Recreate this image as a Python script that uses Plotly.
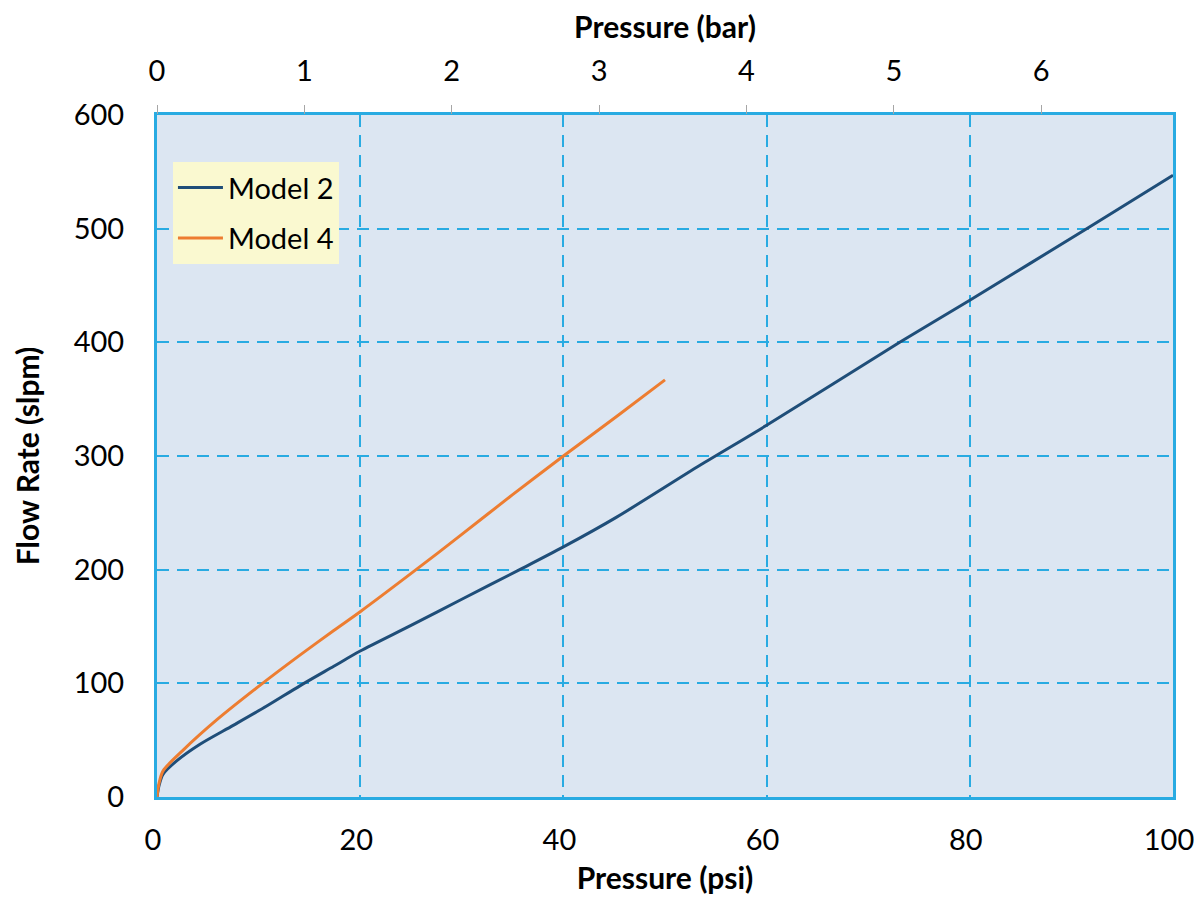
import plotly.graph_objects as go

PSI_PER_BAR = 14.5038

model2_psi = [0, 0.2, 0.6, 1.93, 4.23, 7.5, 10.8, 14.1, 17.4, 20, 25, 30, 35.7, 40, 45.2, 53.4, 60, 73.1, 80, 91.5, 100]
model2_slpm = [0, 10, 20, 31.7, 46.4, 63, 80, 98, 115, 128.4, 151, 174, 200, 220, 246, 291.6, 327, 400, 437, 500, 547]

model4_psi = [0, 0.2, 0.6, 2.6, 5.9, 10.1, 14.1, 17.4, 20, 25.5, 30, 35, 40, 45.2, 50]
model4_slpm = [0, 12, 23, 41.5, 68, 98, 125, 146.5, 163, 200, 231, 266, 300, 334.5, 367]

x_ticks = [0, 20, 40, 60, 80, 100]
bar_ticks = [0, 1, 2, 3, 4, 5, 6]
y_ticks = [0, 100, 200, 300, 400, 500, 600]

FONT = "Lato"
BORDER = "#29ABE2"
TICK_SIZE = 29
TITLE_SIZE = 30

fig = go.Figure()
fig.add_trace(go.Scatter(x=model2_psi, y=model2_slpm, mode="lines", name="Model 2",
                         legendgroup="m2",
                         line=dict(color="#1F4E79", width=3, shape="spline", smoothing=0.8)))
fig.add_trace(go.Scatter(x=model4_psi, y=model4_slpm, mode="lines", name="Model 4",
                         legendgroup="m4",
                         line=dict(color="#ED7D31", width=3, shape="spline", smoothing=0.8)))
# invisible trace to anchor the top (bar) axis
fig.add_trace(go.Scatter(x=[p / PSI_PER_BAR for p in model2_psi], y=model2_slpm, xaxis="x2",
                         mode="lines", line=dict(width=0), opacity=0, showlegend=False,
                         hoverinfo="skip"))

fig.update_layout(
    width=1186, height=887,
    margin=dict(l=149, r=21, t=107, b=98),
    paper_bgcolor="white",
    plot_bgcolor="#DCE6F2",
    font=dict(family=FONT, size=TICK_SIZE, color="black"),
    showlegend=True,
    legend=dict(x=0.0157, y=0.931, xanchor="left", yanchor="top",
                bgcolor="#FAF9D0", font=dict(family=FONT, size=TICK_SIZE, color="black"),
                borderwidth=0, tracegroupgap=10, itemwidth=45,
                entrywidth=150, entrywidthmode="pixels"),
    xaxis=dict(range=[0, 100], tickvals=x_ticks, showgrid=True, gridcolor=BORDER,
               gridwidth=2, griddash="12px,8px", zeroline=False,
               showline=True, linecolor=BORDER, linewidth=3, mirror=True,
               ticks="", ticklabelstandoff=15, ticklabelshift=-4,
               automargin=False, ticklabeloverflow="allow",
               title=dict(text="<b>Pressure (psi)</b>", font=dict(family=FONT, size=TITLE_SIZE), standoff=14)),
    xaxis2=dict(range=[0, 100 / PSI_PER_BAR], tickvals=bar_ticks, overlaying="x", side="top",
                showgrid=False, zeroline=False, showline=False,
                ticks="outside", ticklen=9, tickcolor="#A6A6A6", tickwidth=1,
                ticklabelstandoff=12, automargin=False, ticklabeloverflow="allow",
                title=dict(text="<b>Pressure (bar)</b>", font=dict(family=FONT, size=TITLE_SIZE), standoff=10)),
    yaxis=dict(range=[0, 600], tickvals=y_ticks, showgrid=True, gridcolor=BORDER,
               gridwidth=2, griddash="12px,8px", zeroline=False,
               showline=True, linecolor=BORDER, linewidth=3, mirror=True,
               ticks="", ticklabelstandoff=24, automargin=False, ticklabeloverflow="allow",
               title=dict(text="<b>Flow Rate (slpm)</b>", font=dict(family=FONT, size=TITLE_SIZE), standoff=26)),
)

fig.write_html("out.html")
